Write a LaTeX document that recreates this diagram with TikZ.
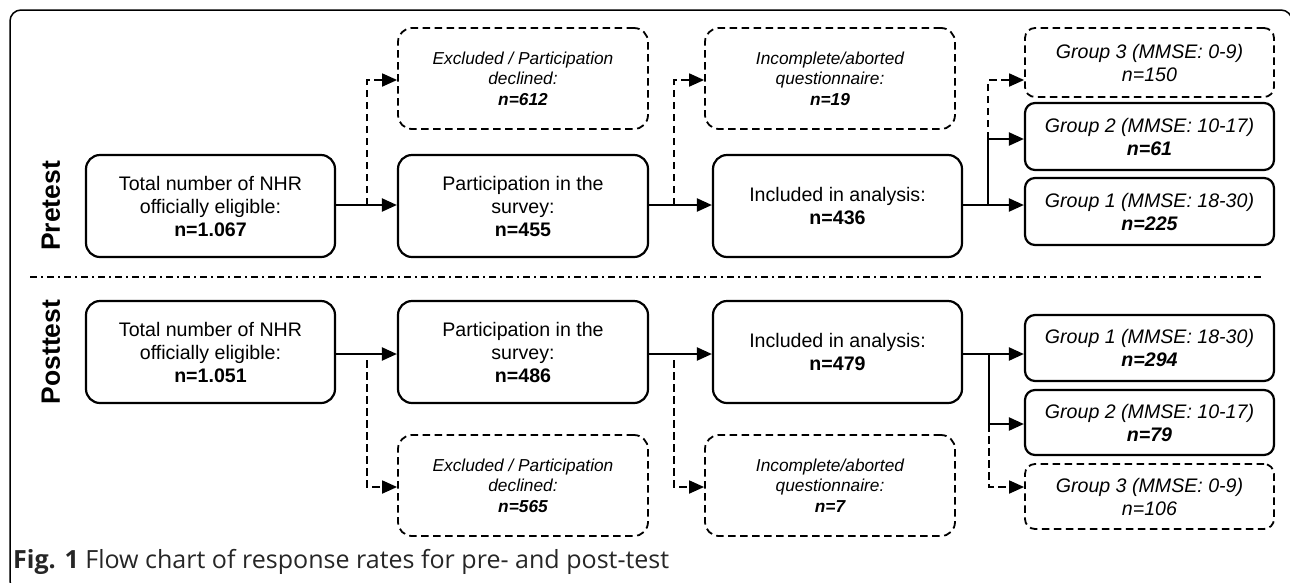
\documentclass[tikz,border=0pt]{standalone}
\usepackage{fontspec}
\setmainfont{Liberation Sans}
\newfontfamily\capfont{Open Sans}
\usetikzlibrary{arrows.meta,calc}
\begin{document}
\begin{tikzpicture}[x=1pt,y=-1pt,
  txt/.style={font=\fontsize{19.6}{23}\selectfont, align=center, inner sep=0pt},
  smalltxt/.style={font=\fontsize{17.3}{20.5}\selectfont\itshape},
  solidbox/.style={txt, draw, line width=2.2pt, rounded corners=14pt, minimum width=249pt, minimum height=102pt},
  dashbox/.style={txt, smalltxt, draw, line width=1.8pt, dash pattern=on 7.5pt off 4.5pt, rounded corners=14pt, minimum width=250pt, minimum height=101pt},
  grpbox/.style={txt, draw, line width=2.2pt, rounded corners=10pt, minimum width=249pt, minimum height=66pt},
  grpdash/.style={grpbox, line width=1.8pt, dash pattern=on 7.5pt off 4.5pt},
  arr/.style={line width=2.2pt, -{Triangle[length=15pt,width=13pt]}},
  darr/.style={line width=1.8pt, dash pattern=on 7.5pt off 4.5pt, -{Triangle[length=15pt,width=13pt]}},
  phase/.style={font=\fontsize{26.5}{26.5}\bfseries\selectfont, rotate=90, inner sep=0pt}
]
\useasboundingbox (0,0) rectangle (1290,582);
\begin{scope}
\clip (0,0) rectangle (1290,582);
\draw[line width=1.5pt, rounded corners=11pt] (10,10) rectangle (1292,592);
\end{scope}

% phase labels
\node[phase] (pre) at (51,206) {Pretest};
\node[phase] (post) at (51,352) {Posttest};

% separator
\coordinate (sepL) at (30,277);
\coordinate (sepR) at (1263,277);
\draw[line width=1.5pt, dash pattern=on 7pt off 4pt on 2pt off 4pt] (sepL) -- (sepR);

% ---------- Pretest ----------
\node[solidbox] (A1) at (210.5,206) {Total number of NHR\\officially eligible:\\\textbf{n=1.067}};
\node[dashbox] (E1) at (523,78.5) {Excluded / Participation\\declined:\\\bfseries n=612};
\node[solidbox, minimum width=250pt] (P1) at (523,206) {Participation in the\\survey:\\\textbf{n=455}};
\node[dashbox] (C1) at (830,78.5) {Incomplete/aborted\\questionnaire:\\\bfseries n=19};
\node[solidbox] (I1) at (837.5,206) {Included in analysis:\\\textbf{n=436}};
\node[grpdash, minimum height=69pt] (G3a) at (1149.5,62.5) {\itshape Group 3 (MMSE: 0-9)\\\itshape n=150};
\node[grpbox, minimum height=67pt] (G2a) at (1149.5,136.5) {\itshape Group 2 (MMSE: 10-17)\\\bfseries\itshape n=61};
\node[grpbox, minimum height=67pt] (G1a) at (1149.5,211.5) {\itshape Group 1 (MMSE: 18-30)\\\bfseries\itshape n=225};

\coordinate (b1) at (367,205);
\coordinate (b2) at (674,205);
\coordinate (b3) at (988,205);
\coordinate (b3m) at (988,139);
\coordinate (b3t) at (988,80);
\coordinate (a1r) at (A1.east |- b1);
\draw[arr] (a1r) -- (a1r -| P1.west);
\draw[darr] (b1) |- (E1.west |- 0,80);
\coordinate (p1r) at (P1.east |- b2);
\draw[arr] (p1r) -- (p1r -| I1.west);
\draw[darr] (b2) |- (C1.west |- 0,80);
\coordinate (i1r) at (I1.east |- b3);
\draw[arr] (i1r) -- (i1r -| G1a.west);
\draw[arr] (b3) -- (b3m) -- (b3m -| G2a.west);
\draw[darr] (b3m) -- (b3t) -- (b3t -| G3a.west);

% ---------- Posttest ----------
\node[solidbox] (A2) at (210.5,352) {Total number of NHR\\officially eligible:\\\textbf{n=1.051}};
\node[solidbox, minimum width=250pt] (P2) at (523,352) {Participation in the\\survey:\\\textbf{n=486}};
\node[solidbox] (I2) at (837.5,352) {Included in analysis:\\\textbf{n=479}};
\node[dashbox] (E2) at (523,485.5) {Excluded / Participation\\declined:\\\bfseries n=565};
\node[dashbox] (C2) at (830,485.5) {Incomplete/aborted\\questionnaire:\\\bfseries n=7};
\node[grpbox] (G1b) at (1149.5,348) {\itshape Group 1 (MMSE: 18-30)\\\bfseries\itshape n=294};
\node[grpbox, minimum height=65pt] (G2b) at (1149.5,422.5) {\itshape Group 2 (MMSE: 10-17)\\\bfseries\itshape n=79};
\node[grpdash, minimum height=65pt] (G3b) at (1149.5,496.5) {\itshape Group 3 (MMSE: 0-9)\\\itshape n=106};

\coordinate (d1) at (367,360);
\coordinate (d2) at (674,360);
\coordinate (d3) at (989,354);
\coordinate (d3m) at (989,424);
\coordinate (d3b) at (989,487);
\coordinate (a2r) at (A2.east |- 0,354);
\draw[arr] (a2r) -- (a2r -| P2.west);
\draw[darr] (d1) |- (E2.west |- 0,487);
\coordinate (p2r) at (P2.east |- 0,354);
\draw[arr] (p2r) -- (p2r -| I2.west);
\draw[darr] (d2) |- (C2.west |- 0,487);
\coordinate (i2r) at (I2.east |- d3);
\draw[arr] (i2r) -- (i2r -| G1b.west);
\draw[arr] (d3) -- (d3m) -- (d3m -| G2b.west);
\draw[darr] (d3m) -- (d3b) -- (d3b -| G3b.west);

% caption
\node[anchor=west, inner sep=0pt, text=black!85] (cap) at (13,562) {\resizebox{656pt}{!}{\capfont\fontsize{18}{21}\selectfont\textbf{Fig. 1} Flow chart of response rates for pre- and post-test}};
\end{tikzpicture}
\end{document}
